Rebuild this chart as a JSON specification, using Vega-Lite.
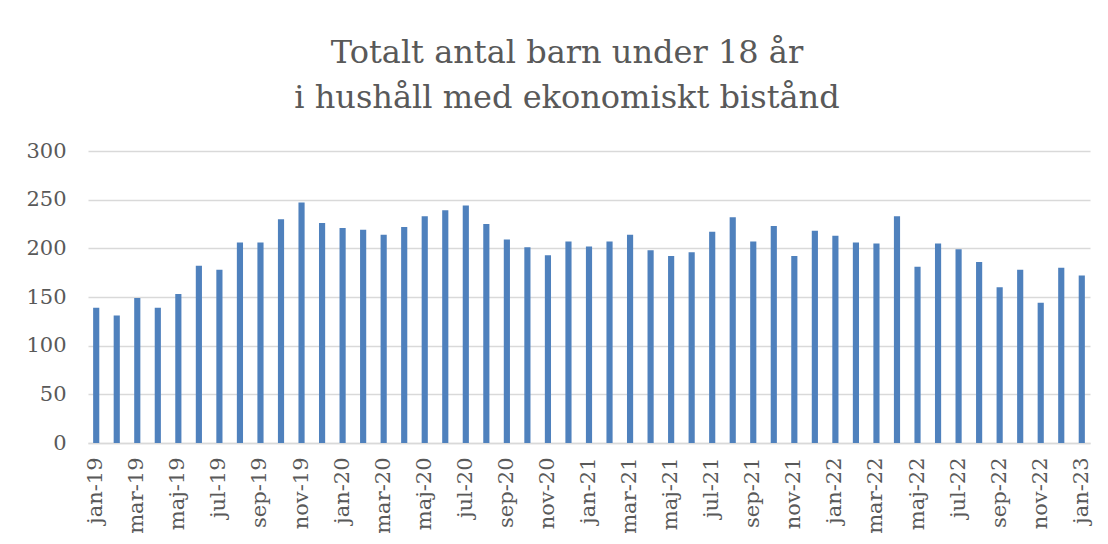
{
  "$schema": "https://vega.github.io/schema/vega-lite/v6.json",
  "autosize": {"type": "none"},
  "width": 1002,
  "height": 292,
  "padding": {"left": 88, "top": 151, "right": 18, "bottom": 101},
  "background": "white",
  "title": {
    "text": ["Totalt antal barn under 18 år", "i hushåll med ekonomiskt bistånd"],
    "font": "DejaVu Serif",
    "fontSize": 32,
    "fontWeight": "normal",
    "color": "#595959",
    "lineHeight": 45,
    "anchor": "middle",
    "frame": "group",
    "dx": -22,
    "offset": 25
  },
  "data": {
    "values": [
      {"month": "jan-19", "value": 139},
      {"month": "feb-19", "value": 131},
      {"month": "mar-19", "value": 149},
      {"month": "apr-19", "value": 139},
      {"month": "maj-19", "value": 153},
      {"month": "jun-19", "value": 182},
      {"month": "jul-19", "value": 178},
      {"month": "aug-19", "value": 206},
      {"month": "sep-19", "value": 206},
      {"month": "okt-19", "value": 230},
      {"month": "nov-19", "value": 247},
      {"month": "dec-19", "value": 226},
      {"month": "jan-20", "value": 221},
      {"month": "feb-20", "value": 219},
      {"month": "mar-20", "value": 214},
      {"month": "apr-20", "value": 222},
      {"month": "maj-20", "value": 233},
      {"month": "jun-20", "value": 239},
      {"month": "jul-20", "value": 244},
      {"month": "aug-20", "value": 225},
      {"month": "sep-20", "value": 209},
      {"month": "okt-20", "value": 201},
      {"month": "nov-20", "value": 193},
      {"month": "dec-20", "value": 207},
      {"month": "jan-21", "value": 202},
      {"month": "feb-21", "value": 207},
      {"month": "mar-21", "value": 214},
      {"month": "apr-21", "value": 198},
      {"month": "maj-21", "value": 192},
      {"month": "jun-21", "value": 196},
      {"month": "jul-21", "value": 217},
      {"month": "aug-21", "value": 232},
      {"month": "sep-21", "value": 207},
      {"month": "okt-21", "value": 223},
      {"month": "nov-21", "value": 192},
      {"month": "dec-21", "value": 218},
      {"month": "jan-22", "value": 213},
      {"month": "feb-22", "value": 206},
      {"month": "mar-22", "value": 205},
      {"month": "apr-22", "value": 233},
      {"month": "maj-22", "value": 181},
      {"month": "jun-22", "value": 205},
      {"month": "jul-22", "value": 199},
      {"month": "aug-22", "value": 186},
      {"month": "sep-22", "value": 160},
      {"month": "okt-22", "value": 178},
      {"month": "nov-22", "value": 144},
      {"month": "dec-22", "value": 180},
      {"month": "jan-23", "value": 172}
    ]
  },
  "mark": {"type": "bar", "color": "#4F81BD"},
  "encoding": {
    "x": {
      "field": "month",
      "type": "ordinal",
      "sort": null,
      "scale": {"paddingInner": 0.7, "paddingOuter": 0.25},
      "axis": {
        "title": null,
        "values": ["jan-19","mar-19","maj-19","jul-19","sep-19","nov-19","jan-20","mar-20","maj-20","jul-20","sep-20","nov-20","jan-21","mar-21","maj-21","jul-21","sep-21","nov-21","jan-22","mar-22","maj-22","jul-22","sep-22","nov-22","jan-23"],
        "labelAngle": -90,
        "labelFont": "DejaVu Serif",
        "labelFontSize": 21,
        "labelColor": "#595959",
        "labelPadding": 14,
        "ticks": false,
        "domainColor": "#D9D9D9",
        "domainWidth": 1.5,
        "grid": false
      }
    },
    "y": {
      "field": "value",
      "type": "quantitative",
      "scale": {"domain": [0, 300], "nice": false},
      "axis": {
        "title": null,
        "values": [0, 50, 100, 150, 200, 250, 300],
        "labelFont": "DejaVu Serif",
        "labelFontSize": 21,
        "labelColor": "#595959",
        "labelPadding": 22,
        "ticks": false,
        "domain": false,
        "gridColor": "#D9D9D9",
        "gridWidth": 1.5
      }
    }
  },
  "config": {"view": {"stroke": null}}
}
